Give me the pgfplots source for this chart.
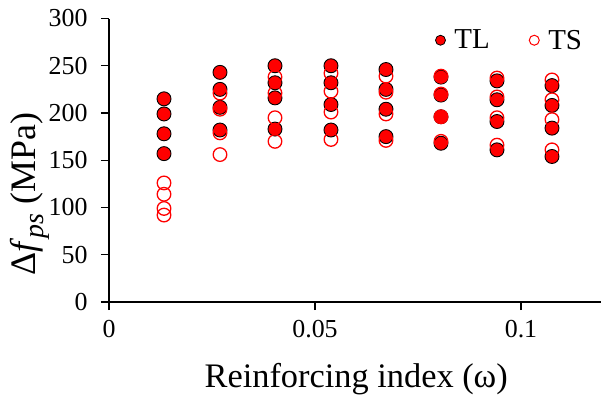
\documentclass[border=0pt]{standalone}
\usepackage{pgfplots}
\pgfplotsset{compat=1.18}
\usepackage{pgfplotstable}
\usepackage{fontspec}
\setmainfont{Liberation Serif}
\usetikzlibrary{calc}

\pgfplotstableread{
x y
0.01335 215
0.01335 199
0.01335 178
0.01335 157
0.02694 243
0.02694 225
0.02694 206
0.02694 182
0.04029 250
0.04029 232
0.04029 216
0.04029 183
0.05388 250
0.05388 232
0.05388 209
0.05388 182
0.06723 246
0.06723 225
0.06723 204
0.06723 175
0.08058 238
0.08058 219
0.08058 196
0.08058 168
0.09417 234
0.09417 214
0.09417 191
0.09417 161
0.10752 229
0.10752 208
0.10752 184
0.10752 154
}\TLdata

\pgfplotstableread{
x y
0.01335 126
0.01335 114
0.01335 99
0.01335 92
0.02694 221
0.02694 204
0.02694 179
0.02694 156
0.04029 238
0.04029 221
0.04029 195
0.04029 170
0.05388 242
0.05388 223
0.05388 201
0.05388 172
0.06723 239
0.06723 222
0.06723 199
0.06723 171
0.08058 239
0.08058 220
0.08058 196
0.08058 170
0.09417 237
0.09417 217
0.09417 195
0.09417 166
0.10752 235
0.10752 214
0.10752 193
0.10752 161
}\TSdata

\begin{document}
\begin{tikzpicture}
\begin{axis}[
  scale only axis,
  width=494.4bp, height=283.5bp,
  xmin=0, xmax=0.12, ymin=0, ymax=300,
  axis x line*=bottom, axis y line*=left,
  axis line style={black, line width=1.1bp, -},
  xtick={0,0.05,0.1}, xticklabels={0,0.05,0.1},
  ytick={0,50,100,150,200,250,300},
  minor tick num=0,
  tick align=outside, major tick length=8bp,
  tick style={black, line width=1.1bp},
  ticklabel style={font=\fontsize{26}{30}\selectfont},
  yticklabel style={xshift=-10bp},
  xticklabel style={yshift=-7bp},
  /pgf/number format/assume math mode=true,
  xlabel={Reinforcing index (ω)},
  xlabel style={font=\fontsize{34.5}{40}\selectfont, yshift=-18bp},
  ylabel={Δ\textit{f}\raisebox{-0.22em}{\fontsize{28}{30}\selectfont\textit{ps}} (MPa)},
  ylabel style={font=\fontsize{36}{40}\selectfont, at={(rel axis cs:0,0.38)}, anchor=center, yshift=79bp},
  clip=false,
  legend style={draw=none, fill=none, inner sep=0pt,
    at={(axis cs:0.0791,277)}, anchor=west,
    font=\fontsize{29}{32}\selectfont,
    /tikz/every even column/.append style={column sep=37bp}},
  legend columns=2,
]
\addplot[only marks, mark=*, mark size=7bp,
  mark options={fill=red, draw=black, line width=0.9bp}, forget plot]
  table[x=x, y=y] {\TLdata};
\addplot[only marks, mark=o, mark size=6.8bp,
  mark options={draw=red, line width=1.3bp}, forget plot]
  table[x=x, y=y] {\TSdata};
\addlegendimage{legend image code/.code={\draw[fill=red, draw=black, line width=0.8bp] (5bp,0bp) circle (5bp); \path[draw=none, fill=none] (0bp,0bp) -- (17bp,0bp);}}
\addlegendentry{TL}
\addlegendimage{legend image code/.code={\draw[draw=red, line width=1bp] (5bp,0bp) circle (5bp); \path[draw=none, fill=none] (0bp,0bp) -- (17bp,0bp);}}
\addlegendentry{TS}
\coordinate (O) at (axis cs:0,0);
\end{axis}
\pgfresetboundingbox
\path[use as bounding box] ($(O)+(-109bp,-94bp)$) rectangle ($(O)+(492bp,302bp)$);
\end{tikzpicture}
\end{document}
